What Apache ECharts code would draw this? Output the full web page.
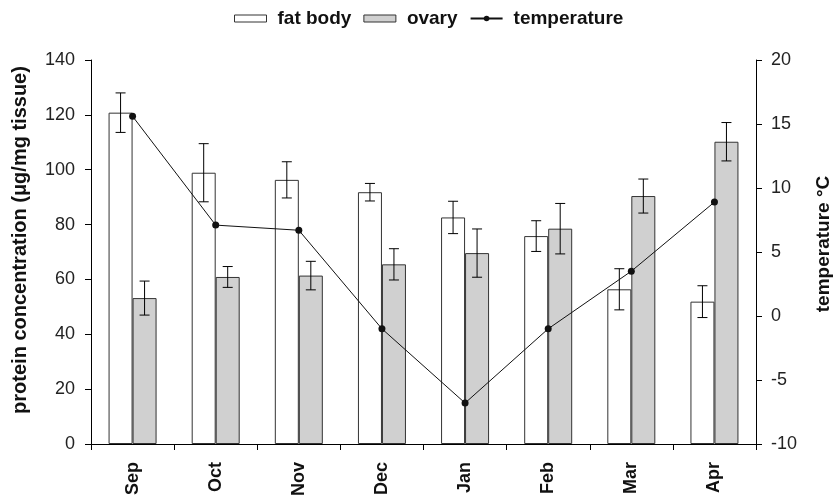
<!DOCTYPE html>
<html>
<head>
<meta charset="utf-8">
<script src="https://cdn.jsdelivr.net/npm/echarts@6/dist/echarts.min.js"></script>
<style>
html,body{margin:0;padding:0;background:#fff;}
#chart{width:834px;height:497px;}
</style>
</head>
<body>
<div id="chart"></div>
<script>
const categories = ['Sep','Oct','Nov','Dec','Jan','Feb','Mar','Apr'];
const fatBody    = [120.8, 98.9, 96.3, 91.8, 82.6, 75.8, 56.4, 51.9];
const fatBodyErr = [7.2, 10.6, 6.6, 3.2, 5.9, 5.6, 7.5, 5.8];
const ovary      = [53.2, 60.9, 61.4, 65.5, 69.6, 78.5, 90.4, 110.2];
const ovaryErr   = [6.2, 3.8, 5.2, 5.7, 8.8, 9.2, 6.2, 7.0];
const temperature = [15.6, 7.1, 6.7, -1.0, -6.8, -1.0, 3.5, 8.9];

const FONT = '"Liberation Sans", Arial, Helvetica, sans-serif';
const BAR_W = 24;

function errorSeries(name, values, errs, offset) {
  return {
    type: 'custom',
    name: name + ' err',
    yAxisIndex: 0,
    z: 5,
    silent: true,
    data: values.map((v, i) => [i, v - errs[i], v + errs[i]]),
    renderItem: function (params, api) {
      const i = api.value(0);
      const lo = api.coord([i, api.value(1)]);
      const hi = api.coord([i, api.value(2)]);
      const x = lo[0] + offset;
      const cap = 5;
      const style = { stroke: '#000', lineWidth: 1 };
      return {
        type: 'group',
        children: [
          { type: 'line', shape: { x1: x, y1: lo[1], x2: x, y2: hi[1] }, style: style },
          { type: 'line', shape: { x1: x - cap, y1: lo[1], x2: x + cap, y2: lo[1] }, style: style },
          { type: 'line', shape: { x1: x - cap, y1: hi[1], x2: x + cap, y2: hi[1] }, style: style }
        ]
      };
    }
  };
}

const chart = echarts.init(document.getElementById('chart'), null, { renderer: 'canvas' });
chart.setOption({
  animation: false,
  backgroundColor: '#fff',
  textStyle: { fontFamily: FONT },
  legend: {
    top: 4,
    left: 229,
    itemWidth: 32,
    itemHeight: 7,
    itemGap: 12,
    textStyle: { fontFamily: FONT, fontWeight: 'bold', fontSize: 19, color: '#111', padding: [0, 0, 0, 6] },
    data: [
      { name: 'fat body', icon: 'rect', itemStyle: { color: '#fff', borderColor: '#333', borderWidth: 1 } },
      { name: 'ovary', icon: 'rect', itemStyle: { color: '#d0d0d0', borderColor: '#333', borderWidth: 1 } },
      { name: 'temperature' }
    ]
  },
  grid: { left: 91, right: 78, top: 60, bottom: 53, containLabel: false, outerBoundsMode: 'none' },
  xAxis: {
    type: 'category',
    data: categories,
    axisLine: { lineStyle: { color: '#000', width: 1 } },
    axisTick: { show: true, length: 6, lineStyle: { color: '#000' } },
    axisLabel: { rotate: 90, fontFamily: FONT, fontWeight: 'bold', fontSize: 18, color: '#111', margin: 18 }
  },
  yAxis: [
    {
      type: 'value', min: 0, max: 140, interval: 20,
      name: 'protein concentration (μg/mg tissue)',
      nameLocation: 'middle', nameGap: 61,
      nameTextStyle: { fontFamily: FONT, fontWeight: 'bold', fontSize: 20, color: '#111', padding: [0, 0, 0, 24] },
      axisLine: { show: true, lineStyle: { color: '#000', width: 1 } },
      axisTick: { show: true, length: 6, lineStyle: { color: '#000' } },
      axisLabel: { fontFamily: FONT, fontSize: 18, color: '#222', margin: 16 },
      splitLine: { show: false }
    },
    {
      type: 'value', min: -10, max: 20, interval: 5,
      name: 'temperature °C',
      nameLocation: 'middle', nameGap: 58,
      nameRotate: 90,
      nameTextStyle: { fontFamily: FONT, fontWeight: 'bold', fontSize: 19, color: '#111', padding: [0, 0, 0, 16] },
      position: 'right',
      axisLine: { show: true, lineStyle: { color: '#000', width: 1 } },
      axisTick: { show: true, length: 6, lineStyle: { color: '#000' } },
      axisLabel: { fontFamily: FONT, fontSize: 18, color: '#222', margin: 15 },
      splitLine: { show: false }
    }
  ],
  series: [
    {
      name: 'fat body', type: 'bar', data: fatBody, barWidth: BAR_W, barGap: '0%',
      itemStyle: { color: '#fff', borderColor: '#333', borderWidth: 1 }, z: 2
    },
    {
      name: 'ovary', type: 'bar', data: ovary, barWidth: BAR_W, barGap: '0%',
      itemStyle: { color: '#d0d0d0', borderColor: '#333', borderWidth: 1 }, z: 2
    },
    errorSeries('fat body', fatBody, fatBodyErr, -BAR_W / 2),
    errorSeries('ovary', ovary, ovaryErr, BAR_W / 2),
    {
      name: 'temperature', type: 'line', yAxisIndex: 1, data: temperature,
      symbol: 'circle', symbolSize: 7,
      lineStyle: { color: '#111', width: 1 },
      itemStyle: { color: '#111' },
      z: 6
    }
  ]
});
</script>
</body>
</html>
